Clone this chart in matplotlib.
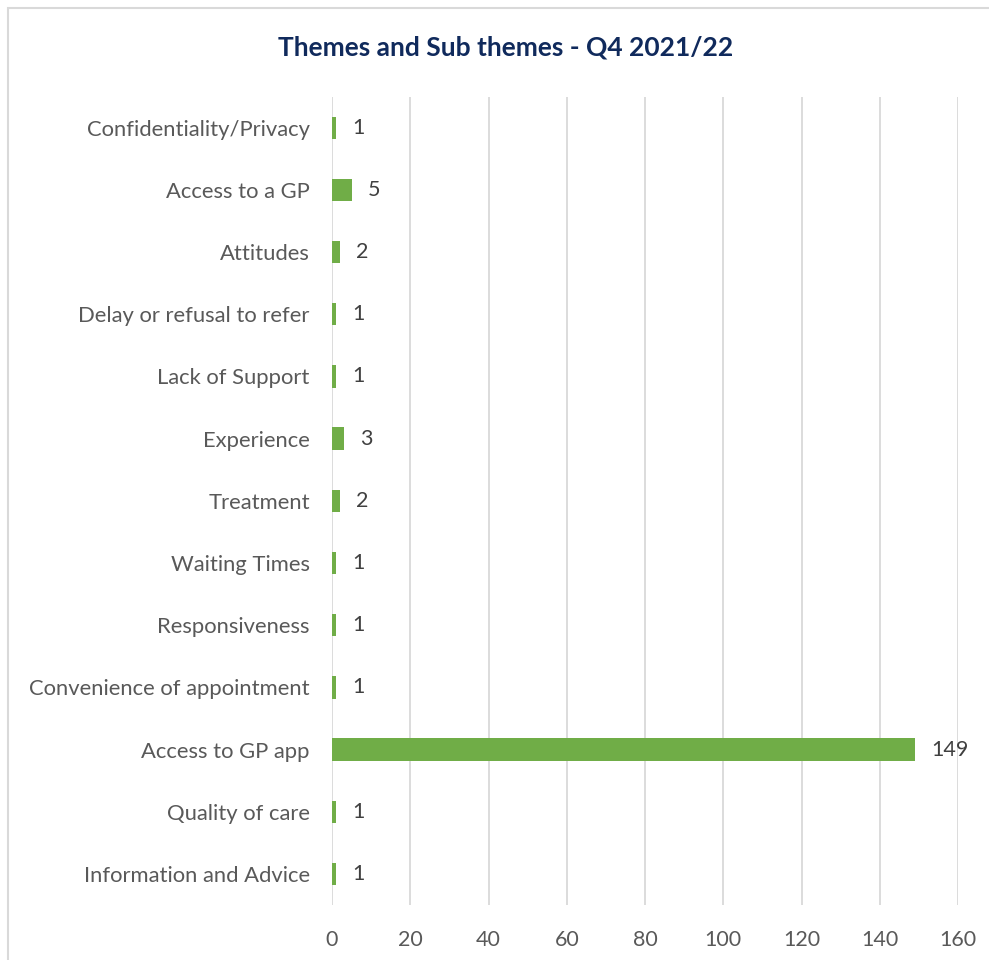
import matplotlib.pyplot as plt
from matplotlib.patches import Rectangle

themes = ["Confidentiality/Privacy", "Access to a GP", "Attitudes",
          "Delay or refusal to refer", "Lack of Support", "Experience",
          "Treatment", "Waiting Times", "Responsiveness",
          "Convenience of appointment", "Access to GP app",
          "Quality of care", "Information and Advice"]
counts = [1, 5, 2, 1, 1, 3, 2, 1, 1, 1, 149, 1, 1]
xticks = [0, 20, 40, 60, 80, 100, 120, 140, 160]

plt.rcParams['font.family'] = ['Lato', 'DejaVu Sans']

fig = plt.figure(figsize=(9.89, 9.6), dpi=100)
ax = fig.add_axes([0.3357, 0.0573, 0.633, 0.842])

# chart border
fig.patches.append(Rectangle((8 / 989, -0.05), 1.1, 1 - 8 / 960 + 0.05,
                             transform=fig.transFigure, fill=False,
                             edgecolor="#D9D9D9", linewidth=1.5))

y = list(range(len(themes)))
ax.barh(y, counts, height=0.36, color="#70AD47", zorder=3)
for yi, c in zip(y, counts):
    ax.text(c + 4.2, yi, str(c), va="center", ha="left",
            fontsize=15.5, color="#404040")

ax.set_yticks(y)
ax.set_yticklabels(themes, fontsize=15.8, color="#595959")
ax.set_ylim(len(themes) - 0.5, -0.5)
ax.set_xlim(0, 160)
ax.set_xticks(xticks)
ax.set_xticklabels([str(t) for t in xticks], fontsize=15.5, color="#595959")
ax.tick_params(length=0, axis="y", pad=16)
ax.tick_params(length=0, axis="x", pad=18)
ax.grid(axis="x", color="#D9D9D9", linewidth=1.3, zorder=0)
for s in ax.spines.values():
    s.set_visible(False)

fig.text(0.511, 0.951, "Themes and Sub themes - Q4 2021/22", ha="center",
         va="center", fontsize=19, fontweight="bold", color="#102A5C")

fig.savefig("out.png", dpi=100)
